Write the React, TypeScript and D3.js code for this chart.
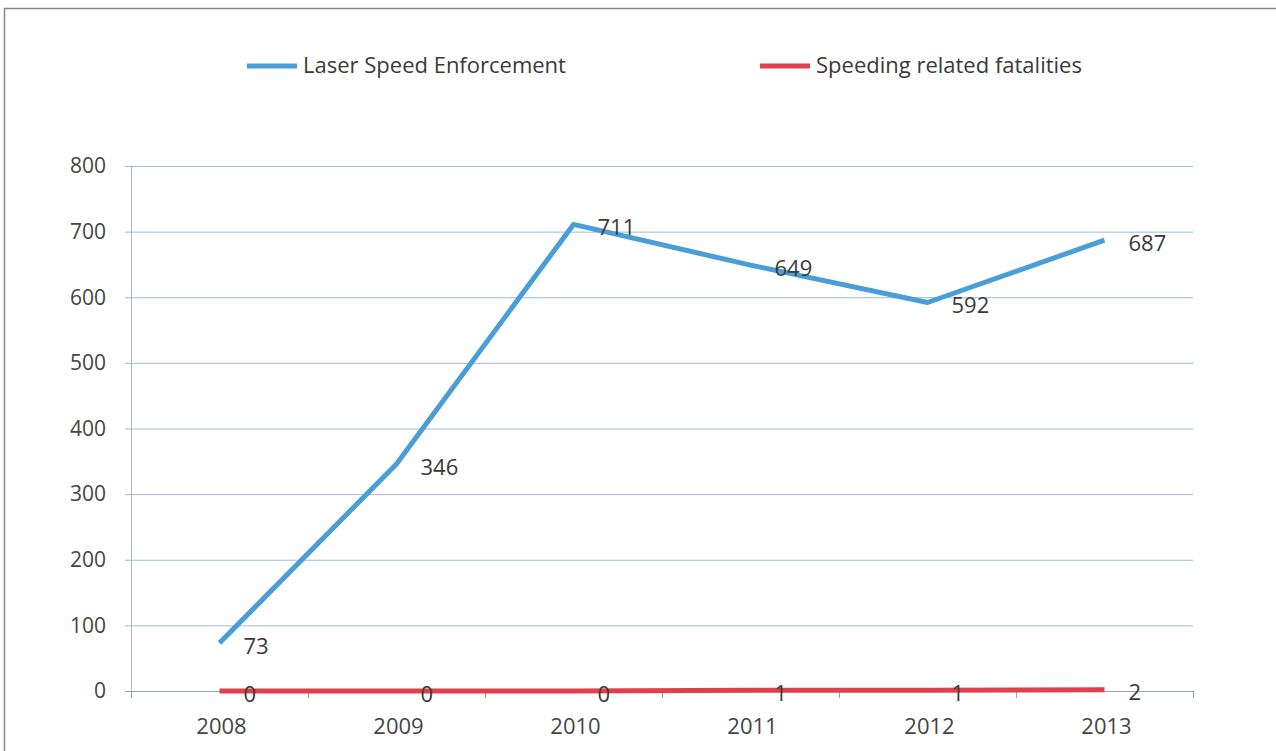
import { useEffect, useRef } from 'react';
import * as d3 from 'd3';

const years = ['2008', '2009', '2010', '2011', '2012', '2013'];
const laserValues = [73, 346, 711, 649, 592, 687];
const fatalityValues = [0, 0, 0, 1, 1, 2];
const yTicks = [0, 100, 200, 300, 400, 500, 600, 700, 800];

const seriesNames = ['Laser Speed Enforcement', 'Speeding related fatalities'];
const seriesColors = ['#4a9ed8', '#e0404c'];

export default function App() {
  const svgRef = useRef<SVGSVGElement | null>(null);

  useEffect(() => {
    if (!svgRef.current) return;
    const width = 1276;
    const height = 751;
    const svg = d3.select(svgRef.current);
    svg.selectAll('*').remove();

    // outer frame
    svg.append('rect').attr('width', width).attr('height', height).attr('fill', '#ffffff');
    svg
      .append('path')
      .attr('d', `M4.5,${height} V8.5 H${width}`)
      .attr('fill', 'none')
      .attr('stroke', '#8a8a8a')
      .attr('stroke-width', 1.5);

    const plot = { left: 131, right: 1193, top: 166, bottom: 691 };

    const x = d3.scaleBand<string>().domain(years).range([plot.left, plot.right]);
    const y = d3.scaleLinear().domain([0, 800]).range([plot.bottom, plot.top]);
    const cx = (d: string) => (x(d) ?? 0) + x.bandwidth() / 2;

    const font = "'Open Sans', 'Liberation Sans', sans-serif";

    // gridlines
    svg
      .append('g')
      .selectAll('line')
      .data(yTicks)
      .join('line')
      .attr('x1', plot.left - 6)
      .attr('x2', plot.right)
      .attr('y1', (d) => y(d) + 0.5)
      .attr('y2', (d) => y(d) + 0.5)
      .attr('stroke', (d) => (d === 0 ? '#8ea4bb' : '#9dbbd6'))
      .attr('stroke-width', 1);

    // y axis line
    svg
      .append('line')
      .attr('x1', plot.left + 0.5)
      .attr('x2', plot.left + 0.5)
      .attr('y1', plot.top)
      .attr('y2', plot.bottom + 6)
      .attr('stroke', '#9dbbd6');

    // x tick marks at band boundaries
    const bounds = years.map((d) => x(d) ?? 0).concat([plot.right]);
    svg
      .append('g')
      .selectAll('line')
      .data(bounds)
      .join('line')
      .attr('x1', (d) => d + 0.5)
      .attr('x2', (d) => d + 0.5)
      .attr('y1', plot.bottom)
      .attr('y2', plot.bottom + 7)
      .attr('stroke', '#8ea4bb');

    // y tick labels
    svg
      .append('g')
      .selectAll('text')
      .data(yTicks)
      .join('text')
      .attr('x', plot.left - 25)
      .attr('y', (d) => y(d))
      .attr('dy', '0.35em')
      .attr('text-anchor', 'end')
      .attr('font-family', font)
      .attr('font-size', 21)
      .attr('fill', '#454545')
      .text((d) => d);

    // x tick labels
    svg
      .append('g')
      .selectAll('text')
      .data(years)
      .join('text')
      .attr('x', (d) => cx(d) + 2)
      .attr('y', plot.bottom + 43)
      .attr('text-anchor', 'middle')
      .attr('font-family', font)
      .attr('font-size', 22)
      .attr('fill', '#454545')
      .text((d) => d);

    const line = d3
      .line<number>()
      .x((_, i) => cx(years[i]))
      .y((v) => y(v));

    const allSeries = [laserValues, fatalityValues];
    allSeries.forEach((vals, si) => {
      svg
        .append('path')
        .datum(vals)
        .attr('d', line)
        .attr('fill', 'none')
        .attr('stroke', seriesColors[si])
        .attr('stroke-width', 5)
        .attr('stroke-linejoin', 'round');
    });

    allSeries.forEach((vals) => {
      svg
        .append('g')
        .selectAll('text')
        .data(vals)
        .join('text')
        .attr('x', (_, i) => cx(years[i]) + 24)
        .attr('y', (v) => y(v) + 3)
        .attr('dy', '0.35em')
        .attr('font-family', font)
        .attr('font-size', 22)
        .attr('fill', '#3a3a3a')
        .text((v) => v);
    });

    // legend
    const legendX = [247, 760];
    seriesNames.forEach((name, i) => {
      const g = svg.append('g').attr('transform', `translate(${legendX[i]},66)`);
      g.append('line')
        .attr('x1', 0)
        .attr('x2', 50)
        .attr('y1', 0)
        .attr('y2', 0)
        .attr('stroke', seriesColors[i])
        .attr('stroke-width', 5);
      g.append('text')
        .attr('x', 56)
        .attr('y', 0)
        .attr('dy', '0.3em')
        .attr('font-family', font)
        .attr('font-size', 22)
        .attr('fill', '#3a3a3a')
        .text(name);
    });
  }, []);

  return (
    <svg
      ref={svgRef}
      width={1276}
      height={751}
      style={{ position: 'absolute', left: 0, top: 0, display: 'block' }}
    />
  );
}
